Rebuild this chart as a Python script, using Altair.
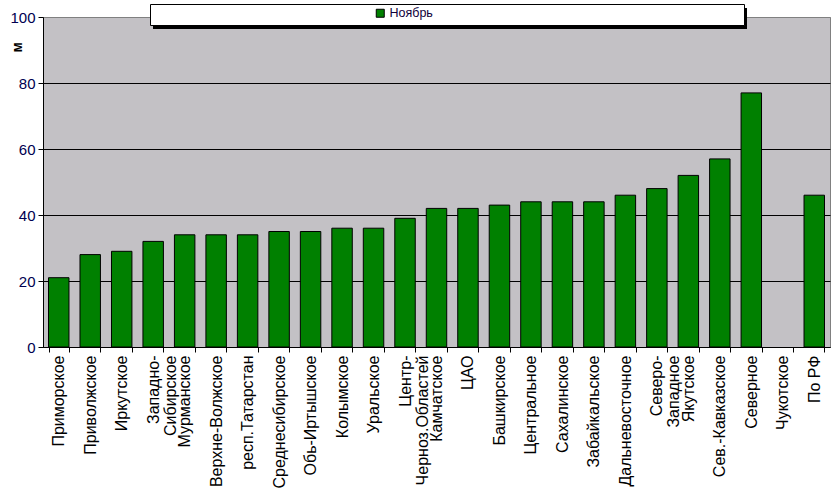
import altair as alt
import pandas as pd

categories = ["Приморское", "Приволжское", "Иркутское", "Западно-\nСибирское", "Мурманское",
              "Верхне-Волжское", "респ.Татарстан", "Среднесибирское", "Обь-Иртышское", "Колымское",
              "Уральское", "Центр-\nЧерноз.Областей", "Камчатское", "ЦАО", "Башкирское",
              "Центральное", "Сахалинское", "Забайкальское", "Дальневосточное", "Северо-\nЗападное",
              "Якутское", "Сев.-Кавказское", "Северное", "Чукотское", "По РФ"]
values = [21, 28, 29, 32, 34, 34, 34, 35, 35, 36, 36, 39, 42, 42, 43, 44, 44, 44, 46, 48, 52, 57, 77, None, 46]
series_name = "Ноябрь"
y_ticks = [0, 20, 40, 60, 80, 100]

df = pd.DataFrame({"cat": categories, "val": values, "series": [series_name] * len(categories)})

FONT = "Liberation Sans"

bars = alt.Chart(df).mark_bar(stroke="black", strokeWidth=1).encode(
    x=alt.X("cat:N", sort=categories, title=None,
            scale=alt.Scale(paddingInner=0.35, paddingOuter=0.175),
            axis=alt.Axis(labelAngle=-90, labelFont=FONT, labelFontSize=16, labelColor="black",
                          labelExpr="split(datum.label, '\\n')", labelLineHeight=17,
                          tickBand="extent", tickColor="black", tickSize=5, domainColor="black",
                          labelPadding=3, labelLimit=200, grid=False)),
    y=alt.Y("val:Q", title="м", scale=alt.Scale(domain=[0, 100]),
            axis=alt.Axis(values=y_ticks, labelFont=FONT, labelFontSize=15, labelColor="#000050",
                          tickColor="black", tickSize=5, domainColor="black", labelPadding=3,
                          gridColor={"condition": {"test": "datum.value == 100", "value": "#808080"}, "value": "black"},
                          titleFont=FONT, titleFontSize=14, titleFontWeight="bold", titleColor="black",
                          titleAngle=-90, titleX=-19, titleY=35, titleAnchor="start")),
    color=alt.Color("series:N", title=None,
                    scale=alt.Scale(domain=[series_name], range=["#008000"]),
                    legend=alt.Legend(orient="none", legendX=331, legendY=-10, symbolType="square",
                                      symbolSize=64, symbolStrokeColor="black", symbolStrokeWidth=1,
                                      labelFont=FONT, labelFontSize=12.5, labelColor="#10003a",
                                      labelOffset=3)),
)

box_df = pd.DataFrame({"a": [0]})
shadow = alt.Chart(box_df).mark_rect(fill="black").encode(
    x=alt.value(110), x2=alt.value(704), y=alt.value(-9), y2=alt.value(12))
box = alt.Chart(box_df).mark_rect(fill="white", stroke="black", strokeWidth=1).encode(
    x=alt.value(107.5), x2=alt.value(701.5), y=alt.value(-12.5), y2=alt.value(8.5))

chart = alt.layer(bars, shadow, box).properties(
    width=787, height=330,
    autosize=alt.AutoSizeParams(type="none"),
    padding={"left": 43, "top": 17, "right": 5, "bottom": 152},
    background="white",
).configure_view(fill="#C3C1C5", stroke="#808080")

chart.save("out.html", embed_options={"renderer": "svg", "actions": False})
